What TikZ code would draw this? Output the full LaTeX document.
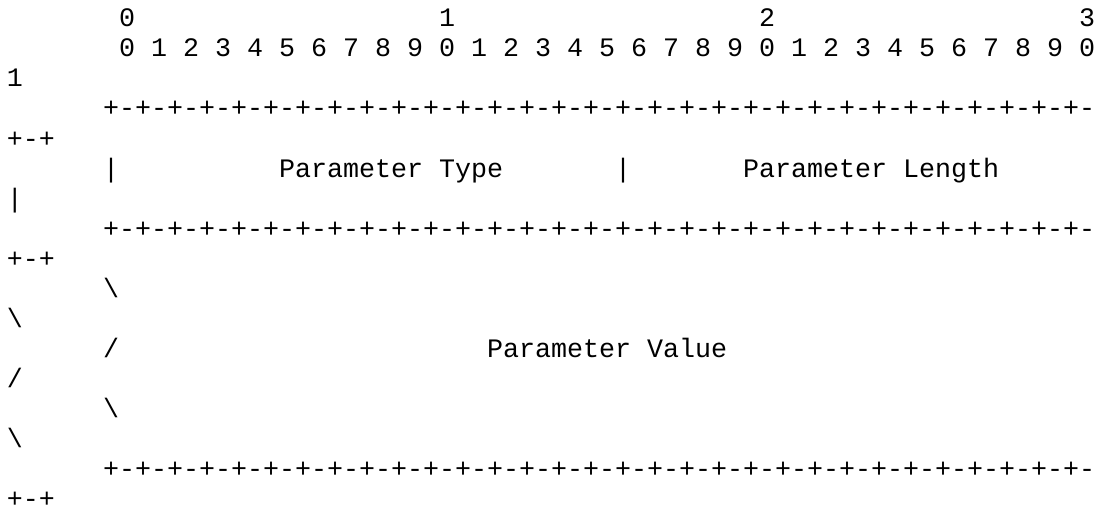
\documentclass[tikz,border=0pt]{standalone}
\usepackage{fontspec}
\setmonofont{Liberation Mono}
\newcommand{\bitrule}{+-+-+-+-+-+-+-+-+-+-+-+-+-+-+-+-+-+-+-+-+-+-+-+-+-+-+-+-+-+-+-}
\tikzset{asc/.style={font=\ttfamily\fontsize{20}{22.56}\selectfont, anchor=base west, inner sep=0pt, outer sep=0pt, text depth=0pt}}

\begin{document}
\begin{tikzpicture}[x=12pt, y=-22.56pt]
    \useasboundingbox (-0.4375,-0.888) rectangle (68.25,16.1);
    % Bit numbering
    \node[asc] (dec0) at (7,0) {0};
    \node[asc] (dec1) at (27,0) {1};
    \node[asc] (dec2) at (47,0) {2};
    \node[asc] (dec3) at (67,0) {3};
    \node[asc] (bits) at (7,1) {0 1 2 3 4 5 6 7 8 9 0 1 2 3 4 5 6 7 8 9 0 1 2 3 4 5 6 7 8 9 0};
    \node[asc] (bitswrap) at (0,2) {1};

    % Type and length
    \node[asc] (rule1) at (6,3) {\bitrule};
    \node[asc] (rule1wrap) at (0,4) {+-+};
    \node[asc] (barleft) at (6,5) {|};
    \node[asc] (ptype) at (17,5) {Parameter Type};
    \node[asc] (barmid) at (38,5) {|};
    \node[asc] (plength) at (46,5) {Parameter Length};
    \node[asc] (barwrap) at (0,6) {|};
    \node[asc] (rule2) at (6,7) {\bitrule};
    \node[asc] (rule2wrap) at (0,8) {+-+};

    % Value
    \node[asc] (bsl1) at (6,9) {\textbackslash};
    \node[asc] (bsl1wrap) at (0,10) {\textbackslash};
    \node[asc] (sl) at (6,11) {/};
    \node[asc] (pvalue) at (30,11) {Parameter Value};
    \node[asc] (slwrap) at (0,12) {/};
    \node[asc] (bsl2) at (6,13) {\textbackslash};
    \node[asc] (bsl2wrap) at (0,14) {\textbackslash};
    \node[asc] (rule3) at (6,15) {\bitrule};
    \node[asc] (rule3wrap) at (0,16) {+-+};
\end{tikzpicture}
\end{document}
